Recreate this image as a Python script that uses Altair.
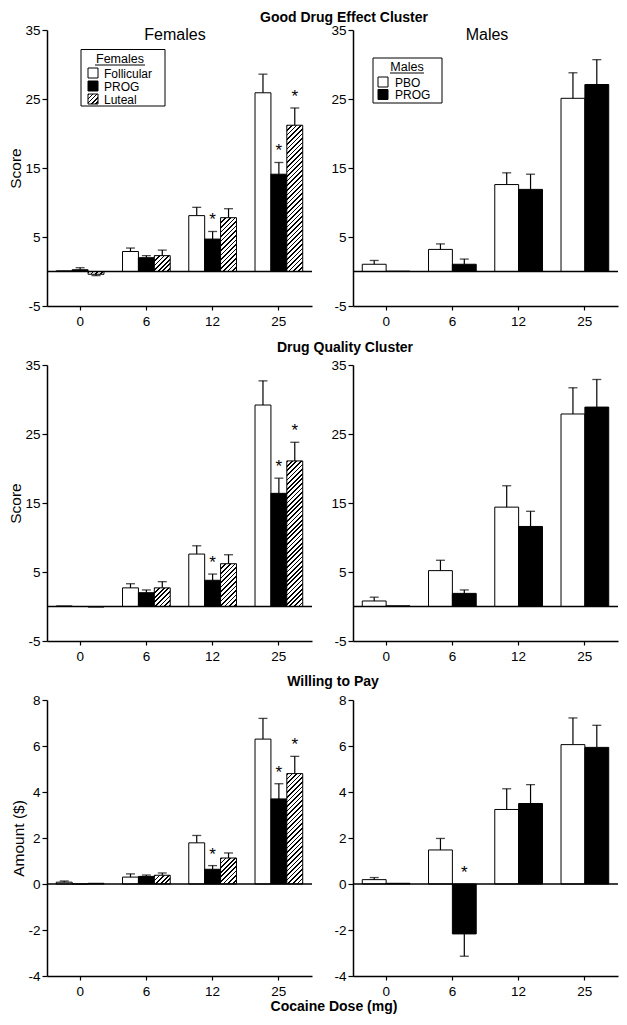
import altair as alt

# ---------------- data ----------------
doses = ["0", "6", "12", "25"]
fem_groups = ["Follicular", "PROG", "Luteal"]
male_groups = ["PBO", "PROG"]

# Good Drug Effect Cluster - females
gde_f_fol = [0.1, 2.9, 8.1, 25.9]
gde_f_fol_sem = [0.0, 0.5, 1.2, 2.7]
gde_f_prog = [0.25, 2.0, 4.7, 14.1]
gde_f_prog_sem = [0.3, 0.3, 1.1, 1.7]
gde_f_lut = [-0.4, 2.3, 7.8, 21.2]
gde_f_lut_sem = [0.2, 0.8, 1.3, 2.5]
gde_f_stars = [("12", "PROG"), ("25", "PROG"), ("25", "Luteal")]
# Good Drug Effect Cluster - males
gde_m_pbo = [1.05, 3.2, 12.6, 25.1]
gde_m_pbo_sem = [0.55, 0.8, 1.7, 3.7]
gde_m_prog = [0.05, 1.05, 11.9, 27.1]
gde_m_prog_sem = [0.0, 0.75, 2.2, 3.6]
gde_m_stars = []

# Drug Quality Cluster - females
dq_f_fol = [0.08, 2.7, 7.6, 29.2]
dq_f_fol_sem = [0.0, 0.6, 1.2, 3.5]
dq_f_prog = [0.0, 2.0, 3.8, 16.4]
dq_f_prog_sem = [0.0, 0.4, 0.9, 2.2]
dq_f_lut = [-0.08, 2.7, 6.2, 21.1]
dq_f_lut_sem = [0.0, 0.9, 1.3, 2.7]
dq_f_stars = [("12", "PROG"), ("25", "PROG"), ("25", "Luteal")]
# Drug Quality Cluster - males
dq_m_pbo = [0.8, 5.2, 14.4, 27.9]
dq_m_pbo_sem = [0.55, 1.5, 3.1, 3.8]
dq_m_prog = [0.1, 1.9, 11.6, 28.9]
dq_m_prog_sem = [0.0, 0.5, 2.2, 4.0]
dq_m_stars = []

# Willing to Pay - females
wtp_f_fol = [0.08, 0.3, 1.79, 6.3]
wtp_f_fol_sem = [0.05, 0.14, 0.32, 0.9]
wtp_f_prog = [0.0, 0.33, 0.64, 3.7]
wtp_f_prog_sem = [0.0, 0.06, 0.16, 0.66]
wtp_f_lut = [0.03, 0.38, 1.13, 4.8]
wtp_f_lut_sem = [0.0, 0.1, 0.22, 0.75]
wtp_f_stars = [("12", "PROG"), ("25", "PROG"), ("25", "Luteal")]
# Willing to Pay - males
wtp_m_pbo = [0.19, 1.48, 3.24, 6.06]
wtp_m_pbo_sem = [0.09, 0.5, 0.9, 1.16]
wtp_m_prog = [0.03, -2.17, 3.5, 5.94]
wtp_m_prog_sem = [0.0, 0.97, 0.82, 0.96]
wtp_m_stars = [("6", "PROG")]

score_ticks = [-5, 5, 15, 25, 35]
amount_ticks = [-4, -2, 0, 2, 4, 6, 8]

row_titles = ["Good Drug Effect Cluster", "Drug Quality Cluster", "Willing to Pay"]
x_title = "Cocaine Dose (mg)"
y_titles = ["Score", "Score", "Amount ($)"]

# ---------------- layout / style ----------------
W, H = 265, 276
FONT = "Liberation Sans"
P_IN, P_OUT = 0.28, 0.14


def hatch(w, h, period=4.6, lw=1.7):
    """diagonal '////' hatching as a linear gradient in bbox units"""
    L = w + h
    stops = []
    pos = 0.0
    while pos < L - 1e-9:
        a = pos / L
        b = min(pos + lw, L) / L
        c = min(pos + period, L) / L
        stops += [{"offset": round(a, 5), "color": "black"},
                  {"offset": round(b, 5), "color": "black"},
                  {"offset": round(b, 5), "color": "white"},
                  {"offset": round(c, 5), "color": "white"}]
        pos += period
    s = L / (w * w + h * h)
    return {"gradient": "linear", "x1": 0, "y1": 0, "x2": w * s, "y2": h * s,
            "stops": stops}


FILLS = {"Follicular": "white", "PBO": "white", "PROG": "black"}


def build_rows(groups, means, sems, stars, pxpu):
    barw = W / (len(doses) - P_IN + 2 * P_OUT) * (1 - P_IN) / len(groups)
    rows = []
    for g, ms, ss in zip(groups, means, sems):
        for d, m, s in zip(doses, ms, ss):
            sign = -1 if m < 0 else 1
            err = m + sign * s
            fill = FILLS.get(g) or hatch(barw, abs(m) * pxpu)
            rows.append({"dose": d, "group": g, "mean": m, "sem": s,
                         "err": err, "star": (d, g) in stars,
                         "star_y": max(err, 0), "fill": fill})
    return rows


ONE = alt.Data(values=[{"k": 1}])


def txt(t, x, y, size, weight="normal", align="center"):
    return alt.Chart(ONE).mark_text(fontSize=size, fontWeight=weight, align=align,
                                    baseline="middle", fill="black").encode(
        x=alt.value(x), y=alt.value(y), text=alt.value(t))


def legend_layers(title, labels, box, title_c, ul, sw_x, sw_ys, lab_x, pxsize=10):
    layers = [alt.Chart(ONE).mark_rect(fill="white", stroke="black", strokeWidth=1).encode(
        x=alt.value(box[0]), x2=alt.value(box[2]), y=alt.value(box[1]), y2=alt.value(box[3]))]
    layers.append(txt(title, title_c[0], title_c[1], 12.5))
    layers.append(alt.Chart(ONE).mark_rule(color="black", strokeWidth=1).encode(
        x=alt.value(ul[0]), x2=alt.value(ul[1]), y=alt.value(ul[2])))
    for lab, yy in zip(labels, sw_ys):
        f = FILLS.get(lab) or hatch(pxsize, pxsize, period=4.2, lw=1.5)
        layers.append(alt.Chart(ONE).mark_rect(stroke="black", strokeWidth=1, fill=f).encode(
            x=alt.value(sw_x), x2=alt.value(sw_x + pxsize), y=alt.value(yy - pxsize / 2),
            y2=alt.value(yy + pxsize / 2)))
        layers.append(txt(lab, lab_x, yy + 0.5, 12, align="left"))
    return layers


def panel(rows, groups, ydom, yticks, ytitle, extra=()):
    base = alt.Chart(alt.Data(values=rows))
    xenc = alt.X("dose:N", sort=doses,
                 scale=alt.Scale(domain=doses, paddingInner=P_IN, paddingOuter=P_OUT),
                 axis=alt.Axis(title=None, labelAngle=0, ticks=True, tickSize=4,
                               labelPadding=4))
    xo = alt.XOffset("group:N", sort=groups,
                     scale=alt.Scale(domain=groups, paddingInner=0, paddingOuter=0))
    yscale = alt.Scale(domain=ydom, nice=False, zero=False)
    yaxis = alt.Axis(values=yticks, title=ytitle, grid=False,
                     labelExpr="'' + datum.value", titlePadding=1)

    def Y(f):
        return alt.Y(f, scale=yscale, axis=yaxis)

    bars = base.mark_bar(stroke="black", strokeWidth=1).encode(
        x=xenc, xOffset=xo, y=Y("mean:Q"), fill=alt.Fill("fill:N", scale=None))
    stems = base.transform_filter("datum.sem > 0").mark_rule(
        color="black", strokeWidth=1.2).encode(
        x=xenc, xOffset=xo, y=Y("mean:Q"), y2="err:Q")
    caps = base.transform_filter("datum.sem > 0").mark_tick(
        color="black", thickness=1.3, size=9, orient="horizontal").encode(
        x=xenc, xOffset=xo, y=Y("err:Q"))
    stars = base.transform_filter("datum.star").mark_text(
        text="*", fontSize=17, dy=-11, fill="black", strokeWidth=0).encode(
        x=xenc, xOffset=xo, y=Y("star_y:Q"))
    zero = alt.Chart(alt.Data(values=[{"z": 0}])).mark_rule(
        color="black", strokeWidth=1.5).encode(y=Y("z:Q"))
    layers = [bars, zero, stems, caps, stars] + list(extra)
    return alt.layer(*layers).properties(width=W, height=H)


SCORE_PX = H / 40.0
AMT_PX = H / 12.0

fem_leg = legend_layers("Females", fem_groups, (34, 19.5, 118, 76), (73, 28.5),
                        (48, 98, 35), 41, [43, 56, 69], 57)
male_leg = legend_layers("Males", male_groups, (20, 28, 89, 73), (54, 36.5),
                         (37, 71, 43), 25, [52, 64.5], 42)

p1 = panel(build_rows(fem_groups, [gde_f_fol, gde_f_prog, gde_f_lut],
                      [gde_f_fol_sem, gde_f_prog_sem, gde_f_lut_sem], gde_f_stars, SCORE_PX),
           fem_groups, [-5, 35], score_ticks, y_titles[0],
           [txt("Females", 128, 5, 16), txt(row_titles[0], 297, -12.5, 14, "bold")] + fem_leg)
p2 = panel(build_rows(male_groups, [gde_m_pbo, gde_m_prog],
                      [gde_m_pbo_sem, gde_m_prog_sem], gde_m_stars, SCORE_PX),
           male_groups, [-5, 35], score_ticks, None,
           [txt("Males", 134, 5, 16)] + male_leg)
p3 = panel(build_rows(fem_groups, [dq_f_fol, dq_f_prog, dq_f_lut],
                      [dq_f_fol_sem, dq_f_prog_sem, dq_f_lut_sem], dq_f_stars, SCORE_PX),
           fem_groups, [-5, 35], score_ticks, y_titles[1],
           [txt(row_titles[1], 298, -17, 14, "bold")])
p4 = panel(build_rows(male_groups, [dq_m_pbo, dq_m_prog],
                      [dq_m_pbo_sem, dq_m_prog_sem], dq_m_stars, SCORE_PX),
           male_groups, [-5, 35], score_ticks, None)
p5 = panel(build_rows(fem_groups, [wtp_f_fol, wtp_f_prog, wtp_f_lut],
                      [wtp_f_fol_sem, wtp_f_prog_sem, wtp_f_lut_sem], wtp_f_stars, AMT_PX),
           fem_groups, [-4, 8], amount_ticks, y_titles[2],
           [txt(row_titles[2], 286, -18, 14, "bold"),
            txt(x_title, 287, H + 31, 14, "bold")])
p6 = panel(build_rows(male_groups, [wtp_m_pbo, wtp_m_prog],
                      [wtp_m_pbo_sem, wtp_m_prog_sem], wtp_m_stars, AMT_PX),
           male_groups, [-4, 8], amount_ticks, None)

chart = alt.concat(
    p1, p2, p3, p4, p5, p6, columns=2, bounds="flush",
    spacing={"row": 59, "column": 41}
).resolve_scale(xOffset="independent").properties(
    padding={"left": 0, "top": 2, "right": 0, "bottom": 0}
).configure(font=FONT).configure_view(stroke=None).configure_axis(
    domainColor="black", domainWidth=1.5, tickColor="black", tickSize=5, tickWidth=1.2,
    labelColor="black", labelFontSize=13.5, labelFont=FONT, titleColor="black",
    titleFontSize=15.5, titleFontWeight="normal", titleFont=FONT, grid=False, labelPadding=2
)

chart.save("out.html", embed_options={"renderer": "svg", "actions": False})
